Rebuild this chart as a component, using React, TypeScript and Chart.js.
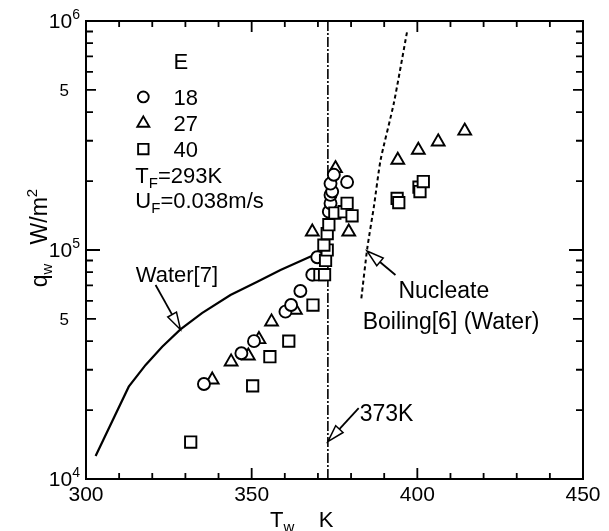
import React, { useEffect, useRef } from 'react';
import { Chart, registerables } from 'chart.js';

Chart.register(...registerables);

// ---- data (T in K, q in W/m^2) ----
const waterT = [302.9, 312.9, 318.0, 323.0, 328.5, 335.0, 343.6, 351.7, 358.7, 368.8];
const waterQ = [1.26e4, 2.53e4, 3.15e4, 3.78e4, 4.5e4, 5.3e4, 6.36e4, 7.27e4, 8.18e4, 9.51e4];

const nucleateT = [383.1, 384.9, 386.9, 388.9, 392.9, 396.9];
const nucleateQ = [6.15e4, 1.02e5, 1.55e5, 2.47e5, 4.37e5, 8.98e5];

const satLineT = [373, 373];
const satLineQ = [1e4, 1e6];

const e18T = [335.6, 346.9, 350.7, 360.2, 361.9, 364.7, 368.3, 369.8, 373.3, 373.8, 373.8, 374.3, 373.8, 374.8, 378.8];
const e18Q = [2.6e4, 3.54e4, 4.0e4, 5.38e4, 5.75e4, 6.62e4, 7.8e4, 9.3e4, 1.47e5, 1.6e5, 1.74e5, 1.8e5, 1.95e5, 2.13e5, 1.98e5];

const e27T = [338.1, 343.8, 349.0, 352.2, 356.0, 363.2, 368.3, 379.3, 375.3, 394.1, 400.3, 406.3, 414.3];
const e27Q = [2.71e4, 3.25e4, 3.45e4, 4.07e4, 4.86e4, 5.47e4, 1.2e5, 1.2e5, 2.27e5, 2.47e5, 2.73e5, 2.97e5, 3.31e5];

const e40T = [331.6, 350.3, 355.5, 361.2, 368.5, 370.6, 372.0, 372.3, 372.8, 371.8, 372.8, 373.3, 375.1, 377.9, 380.3, 378.8, 393.9, 394.4, 400.5, 400.8, 401.8];
const e40Q = [1.45e4, 2.55e4, 3.42e4, 4.0e4, 5.75e4, 7.8e4, 7.8e4, 9.0e4, 1.0e5, 1.05e5, 1.18e5, 1.29e5, 1.45e5, 1.47e5, 1.41e5, 1.6e5, 1.68e5, 1.61e5, 1.88e5, 1.8e5, 1.99e5];

const xMajorTicks = [300, 350, 400, 450];
const xMinorTicks = [310, 320, 330, 340, 360, 370, 380, 390, 410, 420, 430, 440];
const yDecadeTicks = [1e4, 1e5, 1e6];
const yDecadeExp = ['4', '5', '6'];
const yFiveTicks = [5e4, 5e5];
const yMinorTicks = [2e4, 3e4, 4e4, 6e4, 7e4, 8e4, 9e4, 2e5, 3e5, 4e5, 6e5, 7e5, 8e5, 9e5];

const legendValues = ['18', '27', '40'];

const FONT_FAMILY = '"Liberation Sans", Arial, Helvetica, sans-serif';
const f = (s: number) => `${s}px ${FONT_FAMILY}`;

const zip = (xs: number[], ys: number[]) => xs.map((x, i) => ({ x, y: ys[i] }));

type Part = [string, number, number];

function rich(ctx: CanvasRenderingContext2D, x: number, y: number, parts: Part[], align: 'left' | 'right' | 'center' = 'left') {
  let total = 0;
  for (const p of parts) {
    ctx.font = f(p[1]);
    total += ctx.measureText(p[0]).width;
  }
  let cx = align === 'right' ? x - total : align === 'center' ? x - total / 2 : x;
  ctx.textAlign = 'left';
  ctx.textBaseline = 'alphabetic';
  ctx.fillStyle = '#000';
  for (const p of parts) {
    ctx.font = f(p[1]);
    ctx.fillText(p[0], cx, y + p[2]);
    cx += ctx.measureText(p[0]).width;
  }
}

function arrow(ctx: CanvasRenderingContext2D, tx: number, ty: number, hx: number, hy: number) {
  const dx = hx - tx, dy = hy - ty;
  const len = Math.hypot(dx, dy);
  const ux = dx / len, uy = dy / len;
  const headL = 17, headW = 5;
  const bx = hx - ux * headL, by = hy - uy * headL;
  ctx.save();
  ctx.beginPath();
  ctx.moveTo(tx, ty);
  ctx.lineTo(bx, by);
  ctx.lineWidth = 1.8;
  ctx.strokeStyle = '#000';
  ctx.stroke();
  ctx.beginPath();
  ctx.moveTo(hx, hy);
  ctx.lineTo(bx - uy * headW, by + ux * headW);
  ctx.lineTo(bx + uy * headW, by - ux * headW);
  ctx.closePath();
  ctx.fillStyle = '#fff';
  ctx.fill();
  ctx.lineWidth = 1.5;
  ctx.stroke();
  ctx.restore();
}

const T = 22;
const S = 15;

const decor = {
  id: 'decor',
  afterDraw(chart: any) {
    const ctx: CanvasRenderingContext2D = chart.ctx;
    const xs = chart.scales.x;
    const ys = chart.scales.y;
    const { left, right, top, bottom } = chart.chartArea;
    const X = (v: number) => xs.getPixelForValue(v);
    const Y = (v: number) => ys.getPixelForValue(v);
    ctx.save();
    ctx.strokeStyle = '#000';
    ctx.fillStyle = '#000';
    ctx.lineWidth = 2;
    ctx.setLineDash([]);
    ctx.strokeRect(left, top, right - left, bottom - top);

    // ticks (inward)
    ctx.lineWidth = 1.8;
    const tickX = (v: number, l: number) => {
      const px = X(v);
      ctx.beginPath();
      ctx.moveTo(px, bottom); ctx.lineTo(px, bottom - l);
      ctx.moveTo(px, top); ctx.lineTo(px, top + l);
      ctx.stroke();
    };
    const tickY = (v: number, l: number) => {
      const py = Y(v);
      ctx.beginPath();
      ctx.moveTo(left, py); ctx.lineTo(left + l, py);
      ctx.moveTo(right, py); ctx.lineTo(right - l, py);
      ctx.stroke();
    };
    xMajorTicks.forEach((v) => tickX(v, 11));
    xMinorTicks.forEach((v) => tickX(v, 6));
    yDecadeTicks.forEach((v) => tickY(v, 14));
    yFiveTicks.forEach((v) => tickY(v, 10));
    yMinorTicks.forEach((v) => tickY(v, 7));

    // tick labels
    xMajorTicks.forEach((v) => rich(ctx, X(v), bottom + 22, [[String(v), 21, 0]], 'center'));
    yDecadeTicks.forEach((v, i) => rich(ctx, left - 6, Y(v) + 7, [['10', 21, 0], [yDecadeExp[i], 14, -9]], 'right'));
    yFiveTicks.forEach((v) => rich(ctx, left - 17, Y(v) + 6, [['5', 17, 0]], 'right'));

    // axis titles
    rich(ctx, 270, 527, [['T', T, 0], ['w', S, 5], ['    K', T, 0]], 'left');
    ctx.save();
    ctx.translate(47, 238);
    ctx.rotate(-Math.PI / 2);
    rich(ctx, 0, 0, [['q', T + 1, 0], ['w', S, 5], ['   W/m', T + 1, 0], ['2', S, -10]], 'center');
    ctx.restore();

    // legend
    rich(ctx, X(326.4), Y(6.69e5) + 8, [['E', T, 0]]);
    const legQ = [4.66e5, 3.59e5, 2.76e5];
    const mx = X(317.3);
    legendValues.forEach((t, i) => {
      const py = Y(legQ[i]);
      rich(ctx, X(326.4), py + 8, [[t, T, 0]]);
      ctx.beginPath();
      ctx.lineWidth = 1.9;
      ctx.strokeStyle = '#000';
      if (i === 0) ctx.arc(mx, py, 5.4, 0, Math.PI * 2);
      else if (i === 1) {
        ctx.moveTo(mx, py - 6.5); ctx.lineTo(mx + 6, py + 3.8); ctx.lineTo(mx - 6, py + 3.8); ctx.closePath();
      } else ctx.rect(mx - 5.2, py - 5.2, 10.4, 10.4);
      ctx.stroke();
    });
    rich(ctx, X(314.9), Y(2.13e5) + 8, [['T', T, 0], ['F', S, 5], ['=293K', T, 0]]);
    rich(ctx, X(314.9), Y(1.65e5) + 8, [['U', T, 0], ['F', S, 5], ['=0.038m/s', T, 0]]);

    // annotations
    rich(ctx, X(315), Y(7.86e4) + 8, [['Water[7]', T, 0]]);
    arrow(ctx, X(321), Y(7.03e4), X(328.5), Y(4.5e4));
    rich(ctx, X(394.3), Y(6.69e4) + 8, [['Nucleate', T + 1, 0]]);
    rich(ctx, X(383.5), Y(4.9e4) + 8, [['Boiling[6] (Water)', T + 1, 0]]);
    arrow(ctx, X(393.4), Y(7.78e4), X(384.8), Y(9.9e4));
    rich(ctx, X(382.6), Y(1.94e4) + 8, [['373K', T + 1, 0]]);
    arrow(ctx, X(382.3), Y(2.04e4), X(373), Y(1.456e4));
    ctx.restore();
  },
};

export default function App() {
  const ref = useRef<HTMLCanvasElement>(null);
  useEffect(() => {
    const pt = (style: string, r: number, order: number, data: any[]) => ({
      data,
      showLine: false,
      pointStyle: style,
      pointRadius: r,
      pointBorderWidth: 1.9,
      pointBorderColor: '#000',
      pointBackgroundColor: '#fff',
      borderColor: '#000',
      backgroundColor: '#fff',
      order,
    });
    const chart = new Chart(ref.current as HTMLCanvasElement, {
      type: 'scatter',
      data: {
        datasets: [
          {
            data: zip(satLineT, satLineQ), showLine: true, pointRadius: 0, borderColor: '#000',
            borderWidth: 1.6, borderDash: [10, 2, 2, 2], order: 6,
          } as any,
          {
            data: zip(waterT, waterQ), showLine: true, pointRadius: 0, borderColor: '#000',
            borderWidth: 2.2, tension: 0, order: 5,
          } as any,
          {
            data: zip(nucleateT, nucleateQ), showLine: true, pointRadius: 0, borderColor: '#000',
            borderWidth: 2, borderDash: [4, 3], tension: 0.2, order: 5,
          } as any,
          pt('triangle', 7.4, 3, zip(e27T, e27Q)) as any,
          pt('circle', 6, 2, zip(e18T, e18Q)) as any,
          pt('rect', 8, 1, zip(e40T, e40Q)) as any,
        ],
      },
      options: {
        responsive: false,
        animation: false,
        devicePixelRatio: 1,
        layout: { padding: { left: 86, top: 21, right: 26, bottom: 52 } },
        plugins: { legend: { display: false }, tooltip: { enabled: false } },
        events: [],
        scales: {
          x: { type: 'linear', min: 300, max: 450, display: false },
          y: { type: 'logarithmic', min: 1e4, max: 1e6, display: false },
        },
      },
      plugins: [decor],
    });
    return () => chart.destroy();
  }, []);
  return (
    <canvas
      ref={ref}
      width={609}
      height={531}
      style={{ position: 'fixed', left: 0, top: 0, width: 609, height: 531, background: '#fff' }}
    />
  );
}
